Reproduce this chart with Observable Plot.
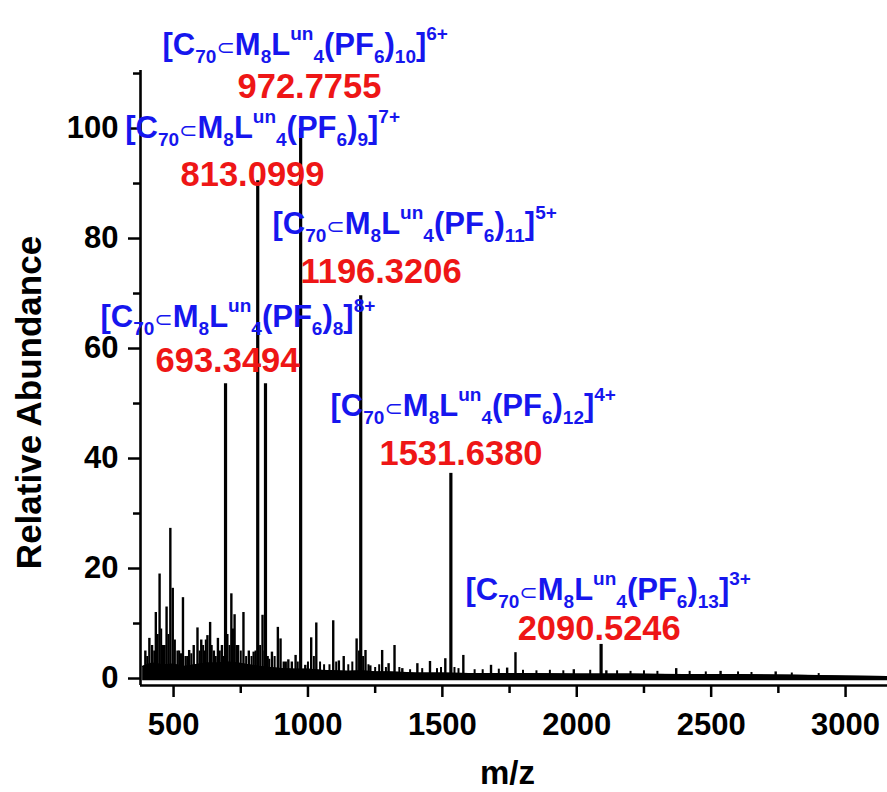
<!DOCTYPE html>
<html>
<head>
<meta charset="utf-8">
<script src="https://cdn.jsdelivr.net/npm/d3@7"></script>
<script src="https://cdn.jsdelivr.net/npm/@observablehq/plot@0.6"></script>
<style>
  html, body { margin: 0; padding: 0; background: #fff; overflow: hidden; }
</style>
</head>
<body>
<div id="chart"></div>
<script>
// ---- data ----
// labelled (assigned) peaks
const majorMz        = [693.35, 813.10, 842.0, 972.78, 1196.32, 1531.64, 2090.52];
const majorAbundance = [53.6,   90.5,   53.6,  100.0,  69.6,    37.3,    6.2];

// smaller peaks
const minorMz = [395, 410, 420, 434, 448, 460, 474, 488, 497, 515, 527, 535, 545, 558, 575, 589, 603, 615, 626, 636, 650, 665,
                 680, 700, 715, 727, 740, 760, 780, 798, 831, 850, 866, 888, 898, 910, 927, 940, 954, 990, 1012, 1031, 1094,
                 1115, 1133, 1181, 1214, 1232, 1276, 1300, 1322, 1351, 1407, 1454, 1511, 1578, 1681, 1741, 1772, 1989, 2110, 2370, 2535, 2740];
const minorAbundance = [5, 7.3, 6, 12, 19, 6, 13, 27.3, 16.4, 5, 4.5, 14.7, 4, 5.1, 6, 9.2, 7, 5, 7.8, 10.2, 5, 7.3,
                 6, 8, 15.4, 11.6, 6, 12, 5, 4.8, 11.5, 4, 4.8, 9.3, 7.2, 3, 3.4, 3, 4.2, 2.4, 7.4, 10.1, 10.5,
                 3.2, 4, 7.2, 5.1, 2.3, 5.1, 2.7, 6, 1.8, 2.7, 3.1, 3.6, 4.2, 2.4, 1.9, 4.7, 1.6, 1.4, 1.8, 1.3, 1.2];

// clutter of tiny peaks in the baseline
const noiseMz = [402, 428, 441, 454, 467, 481, 505, 521, 552, 566, 597, 610, 620, 642, 657, 672, 686, 708, 721, 734, 750, 770,
                 790, 805, 822, 838, 856, 876, 918, 962, 1000, 1022, 1045, 1060, 1080, 1105, 1150, 1165, 1190, 1205, 1225, 1250,
                 1265, 1290, 1340, 1380, 1425, 1480, 1495, 1545, 1560, 1620, 1650, 1710, 1800, 1850, 1900, 1950, 2050, 2150,
                 2200, 2250, 2300, 2420, 2480, 2600, 2650, 2800, 2900];
const noiseAbundance = [4, 5, 8, 9, 6, 8, 7, 5, 4, 4.5, 5, 6, 7, 6, 4, 5, 4, 6, 9, 6, 5, 4,
                 4, 5, 6, 5, 3.5, 4, 3, 3, 3, 4, 3, 2.5, 2.5, 3, 2.5, 3, 5, 4, 2.5, 2,
                 2.5, 2, 2, 1.6, 1.8, 1.8, 2, 2, 1.8, 1.6, 1.6, 1.7, 1.5, 1.4, 1.5, 1.4, 1.5, 1.4,
                 1.3, 1.4, 1.3, 1.3, 1.2, 1.2, 1.1, 1.0, 0.9];

// noisy baseline envelope
const baseMz  = [385, 420, 460, 500, 540, 580, 620, 660, 700, 740, 780, 820, 860, 900, 950, 1000, 1050, 1100, 1150, 1200,
                 1250, 1300, 1350, 1400, 1500, 1600, 1800, 2000, 2200, 2400, 2600, 2800, 3000, 3156];
const baseTop = [2.2, 2.8, 2.5, 2.6, 2.2, 2.5, 2.8, 2.8, 3.0, 2.8, 2.5, 2.2, 2.0, 1.8, 1.7, 1.7, 1.5, 1.4, 1.3, 1.4,
                 1.2, 1.2, 1.1, 1.0, 1.0, 0.9, 0.9, 0.8, 0.8, 0.7, 0.7, 0.6, 0.45, 0.35];
const baseBottom = -0.4;

// ticks
const xTicks = [500, 1000, 1500, 2000, 2500, 3000];
const xMinorTicks = [750, 1250, 1750, 2250, 2750];
const yTicks = [0, 20, 40, 60, 80, 100];
const yMinorTicks = [10, 30, 50, 70, 90, 110];
const xDomain = [377, 3156];
const yDomain = [-1.27, 110.55];

// annotations (ion formula, markup: _{sub} ^{sup})
const ionText = [
  "[C_{70}⊂M_{8}L^{un}_{4}(PF_{6})_{10}]^{6+}",
  "[C_{70}⊂M_{8}L^{un}_{4}(PF_{6})_{9}]^{7+}",
  "[C_{70}⊂M_{8}L^{un}_{4}(PF_{6})_{11}]^{5+}",
  "[C_{70}⊂M_{8}L^{un}_{4}(PF_{6})_{8}]^{8+}",
  "[C_{70}⊂M_{8}L^{un}_{4}(PF_{6})_{12}]^{4+}",
  "[C_{70}⊂M_{8}L^{un}_{4}(PF_{6})_{13}]^{3+}"
];
const ionMz = [459, 320, 868, 228, 1084, 1586];
const ionAb = [113.3, 98.2, 80.9, 64.0, 47.8, 14.3];
const massText = ["972.7755", "813.0999", "1196.3206", "693.3494", "1531.6380", "2090.5246"];
const massMz = [738, 526, 972, 433, 1266, 1780];
const massAb = [105.6, 89.6, 72.0, 55.8, 38.9, 7.0];

const xLabel = "m/z";
const yLabel = "Relative Abundance";

// ---- tables built from the arrays ----
const majors = majorMz.map((mz, i) => ({mz, ab: majorAbundance[i], zero: 0}));
const minors = minorMz.map((mz, i) => ({mz, ab: minorAbundance[i], zero: 0}));
const noise = noiseMz.map((mz, i) => ({mz, ab: noiseAbundance[i], zero: 0}));
const base = baseMz.map((mz, i) => ({mz, top: baseTop[i], bottom: baseBottom}));
const ions = ionText.map((text, i) => ({text, mz: ionMz[i], ab: ionAb[i]}));
const masses = massText.map((text, i) => ({text, mz: massMz[i], ab: massAb[i]}));

const BLUE = "#1616ee";
const RED = "#ee1616";
const FONT = "'Liberation Sans', Arial, Helvetica, sans-serif";

const svg = Plot.plot({
  width: 887,
  height: 792,
  marginLeft: 140,
  marginRight: 0,
  marginTop: 70,
  marginBottom: 107,
  style: {fontFamily: FONT, fontWeight: "bold", background: "#fff", color: "#000"},
  x: {domain: xDomain},
  y: {domain: yDomain},
  marks: [
    // spectrum
    Plot.areaY(base, {x: "mz", y1: "bottom", y2: "top", fill: "#000", curve: "linear"}),
    Plot.lineY(base, {x: "mz", y: "top", stroke: "#000", strokeWidth: 1.2}),
    Plot.ruleX(noise, {x: "mz", y1: "zero", y2: "ab", stroke: "#000", strokeWidth: 2}),
    Plot.ruleX(minors, {x: "mz", y1: "zero", y2: "ab", stroke: "#000", strokeWidth: 2.4}),
    Plot.ruleX(majors, {x: "mz", y1: "zero", y2: "ab", stroke: "#000", strokeWidth: 3.2}),
    // axes
    Plot.ruleX([xDomain[0]], {stroke: "#000", strokeWidth: 2.6}),
    Plot.ruleY([yDomain[0]], {stroke: "#000", strokeWidth: 2.6}),
    Plot.axisX({ticks: xTicks, tickSize: 12, tickPadding: 15, strokeWidth: 2.5, fontSize: 31, fontWeight: "bold",
                tickFormat: d => String(d), label: null}),
    Plot.axisX({ticks: xMinorTicks, tickSize: 8, strokeWidth: 2.5, tickFormat: () => "", label: null}),
    Plot.axisY({ticks: yTicks, tickSize: 12, tickPadding: 10, strokeWidth: 2.5, fontSize: 31, fontWeight: "bold",
                tickFormat: d => String(d), label: null}),
    Plot.axisY({ticks: yMinorTicks, tickSize: 7, strokeWidth: 2.5, tickFormat: () => "", label: null}),
    // axis titles
    Plot.text([yLabel], {frameAnchor: "left", rotate: -90, textAnchor: "middle", lineAnchor: "bottom",
                         dx: -100, dy: 24.5, fontSize: 35, fontWeight: "bold", fill: "#000"}),
    Plot.text([xLabel], {frameAnchor: "bottom", textAnchor: "middle", lineAnchor: "bottom",
                         dx: -6.5, dy: 98, fontSize: 33, fontWeight: "bold", fill: "#000"}),
    // annotations
    Plot.text(ions, {x: "mz", y: "ab", text: "text", textAnchor: "start", lineAnchor: "bottom",
                     fill: BLUE, fontSize: 31, fontWeight: "bold"}),
    Plot.text(masses, {x: "mz", y: "ab", text: "text", textAnchor: "start", lineAnchor: "bottom",
                       fill: RED, fontSize: 34.5, fontWeight: "bold"})
  ]
});

// turn _{...} / ^{...} markup into sub/superscript tspans
const NS = "http://www.w3.org/2000/svg";
svg.querySelectorAll("text").forEach(t => {
  const s = t.textContent;
  if (!/[_^]\{/.test(s)) return;
  while (t.firstChild) t.removeChild(t.firstChild);
  let shift = 0;
  const re = /([_^])\{([^}]*)\}|(⊂)|([^_^⊂]+)/g;
  let m;
  while ((m = re.exec(s))) {
    let txt, size = null, target = 0, fam = null, weight = null;
    if (m[1]) { txt = m[2]; size = 19; target = m[1] === "_" ? 8 : -15; }
    else if (m[3]) { txt = m[3]; size = 22; target = 0; fam = "'DejaVu Sans', sans-serif"; weight = "normal"; }
    else { txt = m[4]; }
    const ts = document.createElementNS(NS, "tspan");
    ts.textContent = txt;
    if (size) ts.setAttribute("font-size", size);
    if (fam) ts.setAttribute("font-family", fam);
    if (weight) ts.setAttribute("font-weight", weight);
    if (target !== shift) { ts.setAttribute("dy", target - shift); shift = target; }
    t.appendChild(ts);
  }
});

document.getElementById("chart").appendChild(svg);
</script>
</body>
</html>
